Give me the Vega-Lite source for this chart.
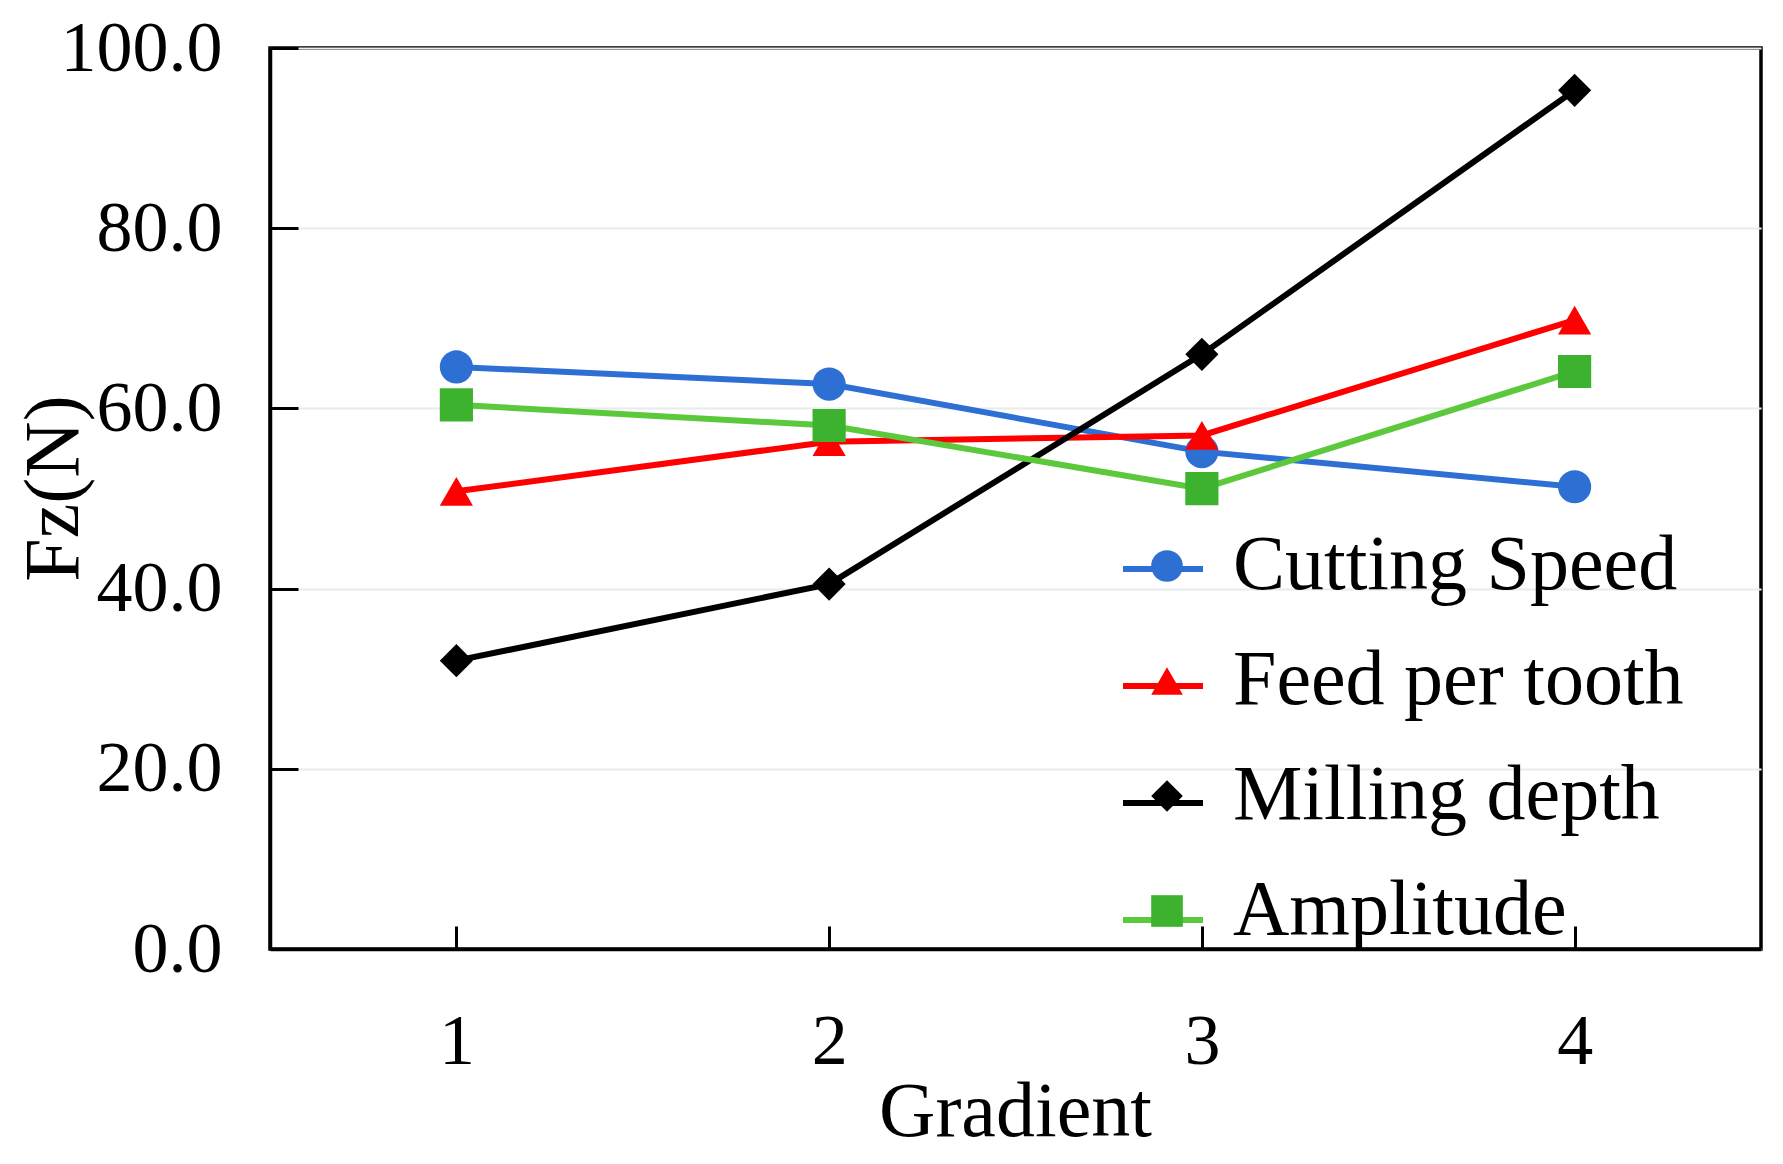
{
  "$schema": "https://vega.github.io/schema/vega-lite/v6.json",
  "autosize": {"type": "none"},
  "width": 1491,
  "height": 901,
  "padding": {"left": 270, "top": 48, "right": 22, "bottom": 215},
  "background": "white",
  "config": {
    "view": {"stroke": "black", "strokeWidth": 3.5},
    "font": "Liberation Serif",
    "axis": {
      "labelFont": "Liberation Serif",
      "titleFont": "Liberation Serif",
      "labelFontSize": 72,
      "titleFontSize": 78,
      "labelColor": "black",
      "titleColor": "black",
      "titleFontWeight": "normal",
      "domainColor": "black",
      "domainWidth": 3.5,
      "tickColor": "black",
      "tickWidth": 3
    },
    "legend": {
      "labelFont": "Liberation Serif",
      "labelFontSize": 78,
      "labelColor": "black",
      "labelLimit": 0
    }
  },
  "data": {
    "values": [
      {"Gradient": 1, "Fz": 64.6, "Series": "Cutting Speed"},
      {"Gradient": 2, "Fz": 62.7, "Series": "Cutting Speed"},
      {"Gradient": 3, "Fz": 55.2, "Series": "Cutting Speed"},
      {"Gradient": 4, "Fz": 51.3, "Series": "Cutting Speed"},
      {"Gradient": 1, "Fz": 50.8, "Series": "Feed per tooth"},
      {"Gradient": 2, "Fz": 56.3, "Series": "Feed per tooth"},
      {"Gradient": 3, "Fz": 57.0, "Series": "Feed per tooth"},
      {"Gradient": 4, "Fz": 69.8, "Series": "Feed per tooth"},
      {"Gradient": 1, "Fz": 32.0, "Series": "Milling depth"},
      {"Gradient": 2, "Fz": 40.5, "Series": "Milling depth"},
      {"Gradient": 3, "Fz": 66.0, "Series": "Milling depth"},
      {"Gradient": 4, "Fz": 95.3, "Series": "Milling depth"},
      {"Gradient": 1, "Fz": 60.4, "Series": "Amplitude"},
      {"Gradient": 2, "Fz": 58.1, "Series": "Amplitude"},
      {"Gradient": 3, "Fz": 51.1, "Series": "Amplitude"},
      {"Gradient": 4, "Fz": 64.1, "Series": "Amplitude"}
    ]
  },
  "encoding": {
    "x": {
      "field": "Gradient",
      "type": "quantitative",
      "scale": {"domain": [0.5, 4.5], "nice": false, "zero": false},
      "axis": {
        "values": [1, 2, 3, 4],
        "format": "d",
        "grid": false,
        "tickSize": -23,
        "labelPadding": 80,
        "title": "Gradient",
        "titleX": 745,
        "titleY": 163,
        "titleBaseline": "middle"
      }
    },
    "y": {
      "field": "Fz",
      "type": "quantitative",
      "scale": {"domain": [0, 100], "nice": false},
      "axis": {
        "values": [0, 20, 40, 60, 80, 100],
        "format": ".1f",
        "grid": true,
        "gridColor": "#E8ECEC",
        "gridWidth": 2,
        "tickSize": -28,
        "labelPadding": 76,
        "title": "Fz(N)",
        "titleX": -216,
        "titleY": 440,
        "titleBaseline": "middle"
      }
    }
  },
  "layer": [
    {
      "mark": {"type": "line", "strokeWidth": 6},
      "encoding": {
        "stroke": {
          "field": "Series",
          "type": "nominal",
          "sort": ["Cutting Speed", "Feed per tooth", "Milling depth", "Amplitude"],
          "scale": {"range": ["#2E6FD4", "#FF0000", "#000000", "#5CC83C"]},
          "legend": {
            "title": null,
            "orient": "none",
            "legendX": 850,
            "legendY": 478,
            "padding": 0,
            "symbolType": "stroke",
            "symbolSize": 6400,
            "symbolStrokeWidth": 6,
            "labelExpr": "''",
            "labelOffset": 27,
            "rowPadding": 35
          }
        }
      }
    },
    {
      "mark": {"type": "point", "filled": true, "opacity": 1, "size": 1100},
      "encoding": {
        "color": {
          "field": "Series",
          "type": "nominal",
          "scale": {
            "domain": ["Cutting Speed", "Feed per tooth", "Milling depth", "Amplitude"],
            "range": ["#2E6FD4", "#FF0000", "#000000", "#3DB22E"]
          },
          "legend": {
            "title": null,
            "orient": "none",
            "legendX": 858,
            "legendY": 479,
            "padding": 0,
            "symbolSize": 1000,
            "symbolOpacity": 1,
            "labelOffset": 27,
            "rowPadding": 37
          }
        },
        "shape": {
          "field": "Series",
          "type": "nominal",
          "scale": {
            "domain": ["Cutting Speed", "Feed per tooth", "Milling depth", "Amplitude"],
            "range": ["circle", "triangle-up", "diamond", "square"]
          },
          "legend": {
            "title": null,
            "orient": "none",
            "legendX": 858,
            "legendY": 479,
            "padding": 0,
            "symbolSize": 1000,
            "symbolOpacity": 1,
            "labelOffset": 27,
            "rowPadding": 37
          }
        }
      }
    }
  ]
}
